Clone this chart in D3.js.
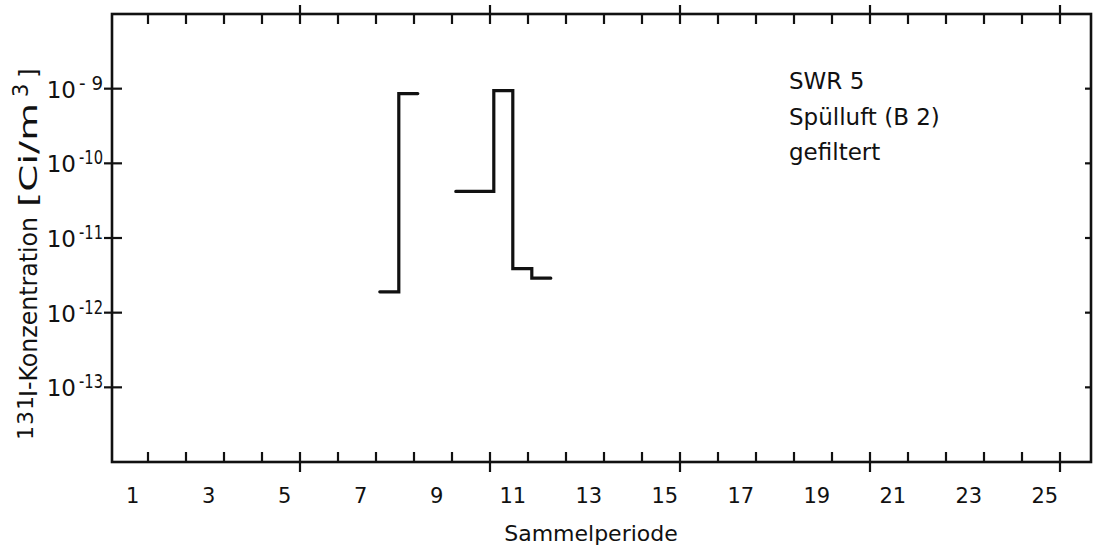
<!DOCTYPE html>
<html>
<head>
<meta charset="utf-8">
<script src="https://cdn.jsdelivr.net/npm/d3@7"></script>
<style>
  html, body { margin: 0; padding: 0; background: #fff; }
  svg { display: block; font-family: "DejaVu Sans", sans-serif; }
</style>
</head>
<body>
<svg id="chart" width="1095" height="549"></svg>
<script>
// ---------- data ----------
// step series: edges in "Sammelperiode" units, value = concentration (Ci/m3)
const group1Edges = [7.1, 7.6, 8.1];
const group1Values = [1.9e-12, 8.6e-10];
const group2Edges = [9.1, 10.1, 10.6, 11.1, 11.6];
const group2Values = [4.2e-11, 9.4e-10, 3.9e-12, 2.9e-12];

const xTickLabels = [1, 3, 5, 7, 9, 11, 13, 15, 17, 19, 21, 23, 25];
const xTicks = d3.range(1, 26);
const xMajorTicks = [5, 10, 15, 20, 25];
const yTickExps = [-9, -10, -11, -12, -13];
const annotation = ["SWR 5", "Spülluft (B 2)", "gefiltert"];

// ---------- layout ----------
const pLeft = 112, pRight = 1091, pTop = 14, pBottom = 462;
const svg = d3.select("#chart");
const ink = "#111";

const x = d3.scaleLinear().domain([0, 25.8]).range([110, 1090.4]);
const y = d3.scaleLog().domain([1e-14, 1e-8]).range([pBottom, pTop]);

// frame
svg.append("rect")
  .attr("x", pLeft).attr("y", pTop)
  .attr("width", pRight - pLeft).attr("height", pBottom - pTop)
  .attr("fill", "none").attr("stroke", ink).attr("stroke-width", 2.6);

// x ticks top & bottom
const tg = svg.append("g").attr("stroke", ink).attr("stroke-width", 2.2);
xTicks.forEach(k => {
  const major = xMajorTicks.includes(k);
  const xx = x(k);
  tg.append("line").attr("x1", xx).attr("x2", xx)
    .attr("y1", major ? pTop - 9 : pTop).attr("y2", pTop + 10);
  tg.append("line").attr("x1", xx).attr("x2", xx)
    .attr("y1", pBottom - 10).attr("y2", major ? pBottom + 10 : pBottom);
});

// y ticks left (crossing) & right (inward)
yTickExps.forEach(e => {
  const yy = y(Math.pow(10, e));
  tg.append("line").attr("x1", pLeft - 8).attr("x2", pLeft + 10)
    .attr("y1", yy).attr("y2", yy);
  tg.append("line").attr("x1", pRight - 6).attr("x2", pRight)
    .attr("y1", yy).attr("y2", yy);
});

// y tick labels
const yl = svg.append("g").attr("fill", ink);
yTickExps.forEach(e => {
  const yy = y(Math.pow(10, e));
  yl.append("text").attr("x", 76).attr("y", yy + 9)
    .attr("text-anchor", "end").attr("font-size", 23).text("10");
  const expTxt = e === -9 ? "- 9" : "-" + String(-e);
  yl.append("text").attr("x", 103).attr("y", yy + 1)
    .attr("text-anchor", "end").attr("font-size", 19)
    .attr("textLength", 24).attr("lengthAdjust", "spacingAndGlyphs")
    .text(expTxt);
});

// x tick labels
const xl = svg.append("g").attr("fill", ink);
xTickLabels.forEach(n => {
  xl.append("text").attr("x", x(n - 0.4)).attr("y", 503)
    .attr("text-anchor", "middle").attr("font-size", 21).text(n);
});

// x title
svg.append("text").attr("x", 591).attr("y", 541)
  .attr("text-anchor", "middle").attr("font-size", 22).attr("fill", ink)
  .text("Sammelperiode");

// y title (rotated)
const yt = svg.append("text")
  .attr("transform", "translate(37,440) rotate(-90)")
  .attr("fill", ink).attr("font-size", 25);
yt.append("tspan").attr("x", 0).attr("y", -4).attr("font-size", 22)
  .attr("letter-spacing", 1).text("131");
yt.append("tspan").attr("x", 43).attr("y", 0)
  .attr("textLength", 180).attr("lengthAdjust", "spacingAndGlyphs").text("I-Konzentration");
yt.append("tspan").attr("x", 233).attr("y", 0)
  .attr("textLength", 104).attr("lengthAdjust", "spacingAndGlyphs").text("[Ci/m");
yt.append("tspan").attr("x", 343).attr("y", -9).attr("font-size", 21).text("3");
yt.append("tspan").attr("x", 362).attr("y", 0).text("]");

// annotation
const an = svg.append("g").attr("fill", ink).attr("font-size", 23);
annotation.forEach((t, i) => {
  an.append("text").attr("x", 789).attr("y", [89, 125, 160][i]).text(t);
});

// step series
const line = d3.line()
  .x(d => x(d[0])).y(d => y(d[1]))
  .curve(d3.curveStepAfter);

function stepPoints(edges, values) {
  const pts = values.map((v, i) => [edges[i], v]);
  pts.push([edges[edges.length - 1], values[values.length - 1]]);
  return pts;
}

[[group1Edges, group1Values], [group2Edges, group2Values]].forEach(([e, v]) => {
  svg.append("path")
    .attr("d", line(stepPoints(e, v)))
    .attr("fill", "none").attr("stroke", ink)
    .attr("stroke-width", 3.2).attr("stroke-linejoin", "miter")
    .attr("stroke-linecap", "round");
});
</script>
</body>
</html>
